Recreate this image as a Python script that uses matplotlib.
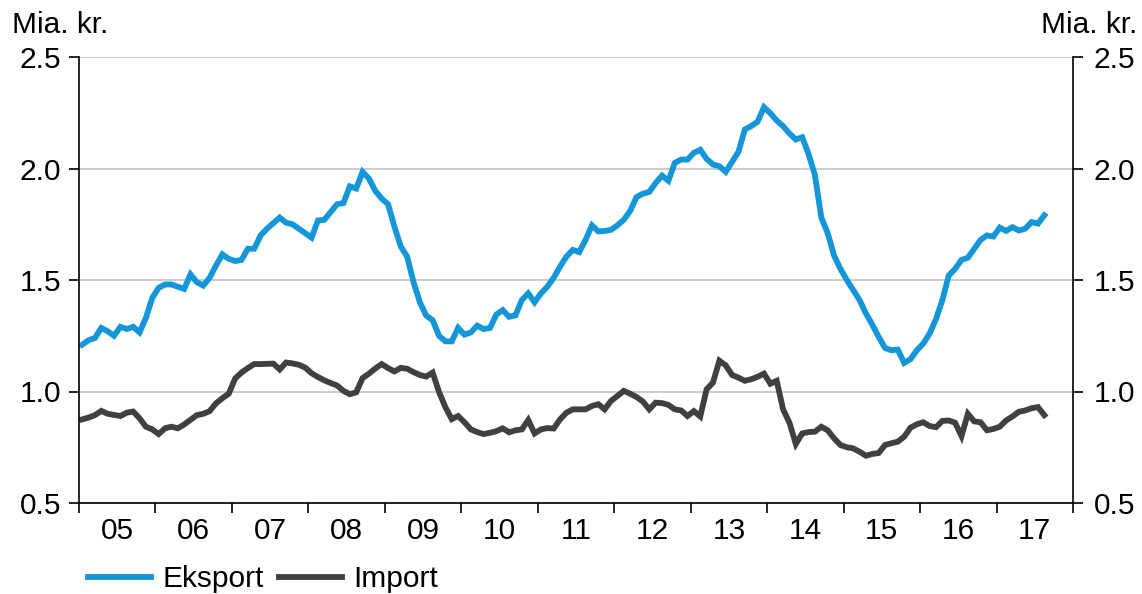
import matplotlib
matplotlib.use("Agg")
import matplotlib.pyplot as plt
import numpy as np

plt.rcParams["font.family"] = ["Liberation Sans", "DejaVu Sans"]

# monthly values, Jan 2005 - Aug 2017, bn kr.
eksport = [
    1.21, 1.23, 1.24, 1.285, 1.27, 1.25, 1.29, 1.28, 1.29, 1.265, 1.33, 1.42,       # 2005
    1.465, 1.48, 1.48, 1.47, 1.46, 1.525, 1.49, 1.475, 1.51, 1.565, 1.615, 1.595,    # 2006
    1.585, 1.59, 1.64, 1.64, 1.70, 1.73, 1.755, 1.78, 1.757, 1.75, 1.73, 1.71,       # 2007
    1.69, 1.767, 1.77, 1.805, 1.84, 1.845, 1.92, 1.91, 1.985, 1.955, 1.90, 1.865,    # 2008
    1.84, 1.74, 1.65, 1.605, 1.49, 1.40, 1.34, 1.32, 1.25, 1.225, 1.225, 1.285,      # 2009
    1.255, 1.265, 1.295, 1.28, 1.285, 1.345, 1.365, 1.335, 1.342, 1.41, 1.44, 1.40,  # 2010
    1.44, 1.47, 1.51, 1.56, 1.605, 1.635, 1.625, 1.68, 1.745, 1.718, 1.72, 1.725,    # 2011
    1.745, 1.77, 1.81, 1.872, 1.887, 1.895, 1.935, 1.968, 1.945, 2.025, 2.04, 2.04,  # 2012
    2.07, 2.084, 2.043, 2.018, 2.01, 1.985, 2.03, 2.075, 2.175, 2.19, 2.21, 2.275,   # 2013
    2.248, 2.215, 2.19, 2.157, 2.13, 2.14, 2.065, 1.97, 1.78, 1.71, 1.61, 1.55,      # 2014
    1.50, 1.455, 1.41, 1.35, 1.30, 1.245, 1.195, 1.185, 1.188, 1.128, 1.145, 1.185,  # 2015
    1.215, 1.26, 1.325, 1.41, 1.52, 1.55, 1.59, 1.60, 1.64, 1.68, 1.70, 1.695,       # 2016
    1.735, 1.72, 1.737, 1.722, 1.73, 1.76, 1.753, 1.79,                              # 2017
]
import_ = [
    0.875, 0.883, 0.894, 0.913, 0.90, 0.895, 0.89, 0.905, 0.91, 0.88, 0.842, 0.83,     # 2005
    0.809, 0.835, 0.842, 0.835, 0.852, 0.873, 0.894, 0.90, 0.912, 0.947, 0.97, 0.99,   # 2006
    1.058, 1.085, 1.105, 1.123, 1.123, 1.124, 1.125, 1.099, 1.13, 1.126, 1.12, 1.107,  # 2007
    1.082, 1.065, 1.05, 1.038, 1.027, 1.003, 0.988, 0.996, 1.06, 1.08, 1.103, 1.123,   # 2008
    1.105, 1.09, 1.106, 1.102, 1.087, 1.074, 1.067, 1.085, 0.998, 0.93, 0.876, 0.89,   # 2009
    0.862, 0.83, 0.818, 0.809, 0.815, 0.822, 0.835, 0.817, 0.826, 0.83, 0.872, 0.812,  # 2010
    0.83, 0.836, 0.834, 0.875, 0.905, 0.92, 0.92, 0.92, 0.935, 0.943, 0.92, 0.958,     # 2011
    0.98, 1.003, 0.99, 0.975, 0.955, 0.92, 0.95, 0.948, 0.94, 0.92, 0.915, 0.89,       # 2012
    0.912, 0.888, 1.01, 1.04, 1.138, 1.117, 1.074, 1.062, 1.048, 1.055, 1.066, 1.08,   # 2013
    1.035, 1.048, 0.92, 0.86, 0.765, 0.812, 0.818, 0.82, 0.842, 0.826, 0.79, 0.76,     # 2014
    0.75, 0.745, 0.73, 0.712, 0.72, 0.724, 0.76, 0.768, 0.775, 0.797, 0.838, 0.853,    # 2015
    0.862, 0.845, 0.84, 0.868, 0.87, 0.86, 0.80, 0.90, 0.866, 0.862, 0.826, 0.832,     # 2016
    0.842, 0.87, 0.888, 0.909, 0.915, 0.925, 0.93, 0.894,                              # 2017
]
years = list(range(2005, 2018))
year_labels = [f"{y % 100:02d}" for y in years]
y_ticks = [0.5, 1.0, 1.5, 2.0, 2.5]

BLUE = "#1496d8"
GREY = "#404040"
FS = 21.5
LW = 4.2

# month i plotted at the middle of its month
t = 2005 + (np.arange(len(eksport)) + 0.5) / 12

fig = plt.figure(figsize=(11.42, 5.94), dpi=100)
ax = fig.add_axes([79 / 1142, 1 - 503 / 594, (1073 - 79) / 1142, (503 - 57) / 594])

ax.plot(t, eksport, color=BLUE, lw=LW, label="Eksport", solid_joinstyle="miter")
ax.plot(t, import_, color=GREY, lw=LW, label="Import", solid_joinstyle="miter")

ax.set_xlim(2005, 2018)
ax.set_ylim(0.5, 2.5)
ax.set_yticks(y_ticks)
ax.yaxis.set_major_formatter(matplotlib.ticker.FormatStrFormatter("%.1f"))
ax.grid(axis="y", color="#c8c8c8", lw=1.3)
ax.set_axisbelow(True)

# year boundaries get tick marks, year centres get labels
ax.set_xticks(years + [2018])
ax.set_xticklabels([])
ax.set_xticks([y + 0.5 for y in years], minor=True)
ax.set_xticklabels(year_labels, minor=True)
ax.tick_params(axis="x", which="major", direction="out", length=7, width=1.2)
ax.tick_params(axis="x", which="minor", length=0, pad=10, labelsize=FS)
ax.tick_params(axis="y", direction="out", length=7, width=1.2, pad=6, labelsize=FS)

for s in ("left", "bottom"):
    ax.spines[s].set_linewidth(1.2)
ax.spines["top"].set_visible(False)
ax.spines["right"].set_visible(False)

ax2 = ax.twinx()
ax2.set_ylim(0.5, 2.5)
ax2.set_yticks(y_ticks)
ax2.yaxis.set_major_formatter(matplotlib.ticker.FormatStrFormatter("%.1f"))
ax2.tick_params(axis="y", direction="out", length=7, width=1.2, pad=8, labelsize=FS)
ax2.spines["right"].set_linewidth(1.2)
for s in ("left", "top", "bottom"):
    ax2.spines[s].set_visible(False)

fig.text(12 / 1142, 1 - 33 / 594, "Mia. kr.", fontsize=FS, ha="left", va="baseline")
fig.text(1137 / 1142, 1 - 33 / 594, "Mia. kr.", fontsize=FS, ha="right", va="baseline")

fig.legend(loc="center left", bbox_to_anchor=(88 / 1142, 1 - 579 / 594),
           ncol=2, frameon=False, fontsize=FS, handlelength=2.1,
           handletextpad=0.4, columnspacing=0.5, borderpad=0, borderaxespad=0)

fig.savefig("out.png", dpi=100)
